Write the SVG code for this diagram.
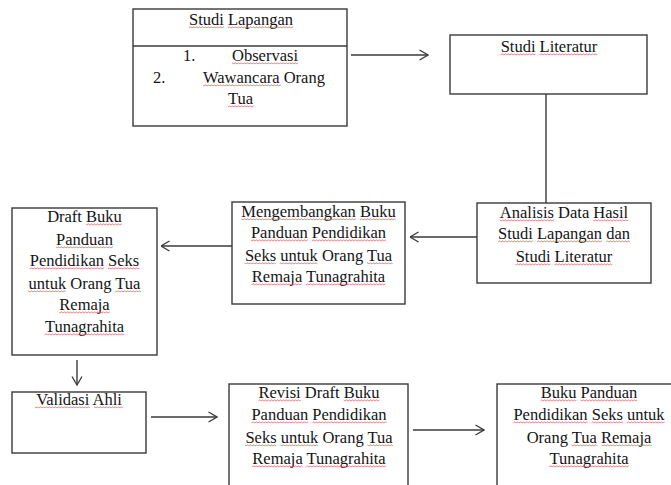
<svg xmlns="http://www.w3.org/2000/svg" width="671" height="485" viewBox="0 0 671 485">
<style>
.box{fill:#fff;stroke:#3a3a3a;stroke-width:1.4}
.t{font-family:"Liberation Serif","Times New Roman",serif;font-size:16.5px;fill:#141414}
.c{text-anchor:middle}
.ln{fill:none;stroke:#3a3a3a;stroke-width:1.4}
.u rect{fill:url(#wv)}
</style>
<defs>
<marker id="ah" viewBox="0 0 10 12" refX="9.5" refY="6" markerWidth="10" markerHeight="12" markerUnits="userSpaceOnUse" orient="auto">
<path d="M1,1 L9.5,6 L1,11" fill="none" stroke="#3a3a3a" stroke-width="1.3"/>
</marker>
<pattern id="wv" patternUnits="userSpaceOnUse" x="0" y="0" width="3" height="3">
<path d="M0,2.3 L1.5,0.7 L3,2.3" fill="none" stroke="#e03c3c" stroke-width="0.7"/>
</pattern>
</defs>
<rect width="671" height="485" fill="#fff"/>
<g id="connectors">
<line class="ln" x1="351" y1="55" x2="428" y2="55" marker-end="url(#ah)"/>
<line class="ln" x1="546" y1="94" x2="546" y2="203"/>
<line class="ln" x1="477" y1="237" x2="410" y2="237" marker-end="url(#ah)"/>
<line class="ln" x1="232" y1="246" x2="161" y2="246" marker-end="url(#ah)"/>
<line class="ln" x1="77" y1="360" x2="77" y2="385" marker-end="url(#ah)"/>
<line class="ln" x1="151" y1="417" x2="217" y2="417" marker-end="url(#ah)"/>
<line class="ln" x1="413" y1="430" x2="484" y2="430" marker-end="url(#ah)"/>
</g>
<g id="studi-lapangan">
<rect class="box" x="133" y="9" width="214" height="117"/>
<line class="ln" x1="133" y1="46" x2="347" y2="46"/>
<text class="t c" x="241" y="25">Studi Lapangan</text>
<text class="t" x="183" y="61">1.</text>
<text class="t" x="232" y="61">Observasi</text>
<text class="t" x="153" y="83">2.</text>
<text class="t" x="203" y="83">Wawancara Orang</text>
<text class="t" x="228" y="104">Tua</text>
<g class="u">
<g transform="translate(0,26)"><rect x="189" y="0" width="34.8" height="3"/><rect x="228" y="0" width="65" height="3"/></g>
<g transform="translate(0,62)"><rect x="232" y="0" width="66" height="3"/></g>
<g transform="translate(0,84)"><rect x="203" y="0" width="77.9" height="3"/></g>
<g transform="translate(0,105)"><rect x="228" y="0" width="25.7" height="3"/></g>
</g>
</g>
<g id="studi-literatur">
<rect class="box" x="450" y="35" width="197" height="59"/>
<text class="t c" x="549" y="52">Studi Literatur</text>
<g class="u"><g transform="translate(0,53)"><rect x="500.6" y="0" width="34.8" height="3"/><rect x="539.6" y="0" width="57.7" height="3"/></g></g>
</g>
<g id="analisis">
<rect class="box" x="477" y="203" width="174" height="80"/>
<text class="t c" x="564" y="218">Analisis Data Hasil</text>
<text class="t c" x="564" y="239">Studi Lapangan dan</text>
<text class="t c" x="564" y="262">Studi Literatur</text>
<g class="u">
<g transform="translate(0,219)"><rect x="499.8" y="0" width="54.1" height="3"/><rect x="593.3" y="0" width="34.8" height="3"/></g>
<g transform="translate(0,240)"><rect x="498" y="0" width="34.8" height="3"/><rect x="537" y="0" width="65" height="3"/><rect x="606.2" y="0" width="23.8" height="3"/></g>
<g transform="translate(0,263)"><rect x="515.6" y="0" width="34.8" height="3"/><rect x="554.6" y="0" width="57.7" height="3"/></g>
</g>
</g>
<g id="mengembangkan">
<rect class="box" x="232" y="202" width="173" height="102"/>
<text class="t c" x="318.5" y="217">Mengembangkan Buku</text>
<text class="t c" x="318.5" y="238">Panduan Pendidikan</text>
<text class="t c" x="318.5" y="261">Seks untuk Orang Tua</text>
<text class="t c" x="318.5" y="282">Remaja Tunagrahita</text>
<g class="u">
<g transform="translate(0,218)"><rect x="241.3" y="0" width="114.6" height="3"/><rect x="360" y="0" width="35.8" height="3"/></g>
<g transform="translate(0,239)"><rect x="250.9" y="0" width="56.8" height="3"/><rect x="311.9" y="0" width="74.2" height="3"/></g>
<g transform="translate(0,262)"><rect x="244.5" y="0" width="31.2" height="3"/><rect x="279.8" y="0" width="37.6" height="3"/><rect x="366.9" y="0" width="25.7" height="3"/></g>
<g transform="translate(0,283)"><rect x="251.4" y="0" width="50.4" height="3"/><rect x="305.9" y="0" width="79.7" height="3"/></g>
</g>
</g>
<g id="draft">
<rect class="box" x="12" y="208" width="145" height="147"/>
<text class="t c" x="84.5" y="222">Draft Buku</text>
<text class="t c" x="84.5" y="245">Panduan</text>
<text class="t c" x="84.5" y="266">Pendidikan Seks</text>
<text class="t c" x="84.5" y="289">untuk Orang Tua</text>
<text class="t c" x="84.5" y="310">Remaja</text>
<text class="t c" x="84.5" y="332">Tunagrahita</text>
<g class="u">
<g transform="translate(0,223)"><rect x="86.1" y="0" width="35.8" height="3"/></g>
<g transform="translate(0,246)"><rect x="56.1" y="0" width="56.8" height="3"/></g>
<g transform="translate(0,267)"><rect x="29.7" y="0" width="74.3" height="3"/><rect x="108.1" y="0" width="31.2" height="3"/></g>
<g transform="translate(0,290)"><rect x="28.1" y="0" width="37.6" height="3"/><rect x="115.2" y="0" width="25.7" height="3"/></g>
<g transform="translate(0,311)"><rect x="59.3" y="0" width="50.4" height="3"/></g>
<g transform="translate(0,333)"><rect x="44.6" y="0" width="79.7" height="3"/></g>
</g>
</g>
<g id="validasi">
<rect class="box" x="12" y="392" width="134" height="61"/>
<text class="t c" x="79" y="405">Validasi Ahli</text>
<g class="u"><g transform="translate(0,406)"><rect x="34.8" y="0" width="55" height="3"/><rect x="93.9" y="0" width="29.3" height="3"/></g></g>
</g>
<g id="revisi">
<rect class="box" x="229" y="384" width="179" height="110"/>
<text class="t c" x="319" y="398">Revisi Draft Buku</text>
<text class="t c" x="319" y="420">Panduan Pendidikan</text>
<text class="t c" x="319" y="443">Seks untuk Orang Tua</text>
<text class="t c" x="319" y="464">Remaja Tunagrahita</text>
<g class="u">
<g transform="translate(0,399)"><rect x="258.5" y="0" width="42.2" height="3"/><rect x="343.7" y="0" width="35.8" height="3"/></g>
<g transform="translate(0,421)"><rect x="251.4" y="0" width="56.8" height="3"/><rect x="312.4" y="0" width="74.2" height="3"/></g>
<g transform="translate(0,444)"><rect x="245" y="0" width="31.2" height="3"/><rect x="280.3" y="0" width="37.6" height="3"/><rect x="367.4" y="0" width="25.7" height="3"/></g>
<g transform="translate(0,465)"><rect x="251.9" y="0" width="50.4" height="3"/><rect x="306.4" y="0" width="79.7" height="3"/></g>
</g>
</g>
<g id="buku-panduan">
<rect class="box" x="497" y="384" width="190" height="110"/>
<text class="t c" x="589" y="398">Buku Panduan</text>
<text class="t c" x="589" y="420">Pendidikan Seks untuk</text>
<text class="t c" x="589" y="443">Orang Tua Remaja</text>
<text class="t c" x="589" y="464">Tunagrahita</text>
<g class="u">
<g transform="translate(0,399)"><rect x="540.6" y="0" width="35.8" height="3"/><rect x="580.5" y="0" width="56.8" height="3"/></g>
<g transform="translate(0,421)"><rect x="513.4" y="0" width="74.2" height="3"/><rect x="591.8" y="0" width="31.2" height="3"/><rect x="627" y="0" width="37.6" height="3"/></g>
<g transform="translate(0,444)"><rect x="571.6" y="0" width="25.7" height="3"/><rect x="601.4" y="0" width="50.4" height="3"/></g>
<g transform="translate(0,465)"><rect x="549.1" y="0" width="79.7" height="3"/></g>
</g>
</g>
</svg>
